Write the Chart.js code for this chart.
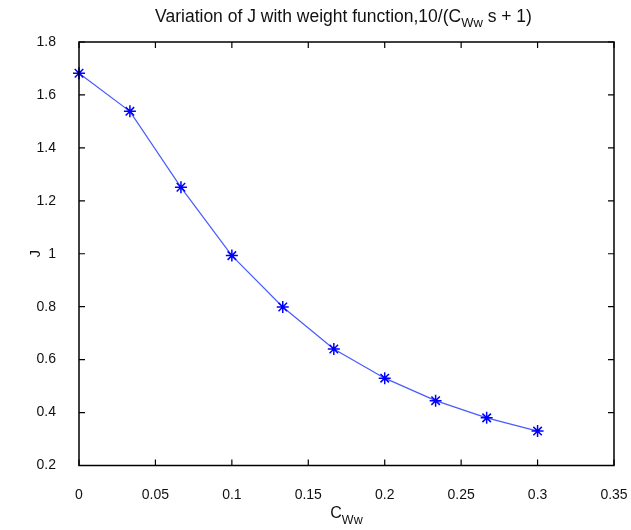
<!DOCTYPE html>
<html>
<head>
<meta charset="utf-8">
<script src="https://cdn.jsdelivr.net/npm/chart.js@4"></script>
<style>
  body { margin: 0; background: #fff; }
  #wrap { width: 631px; height: 530px; }
</style>
</head>
<body>
<div id="wrap"><canvas id="jplot" width="631" height="530"></canvas></div>
<script>
const xValuesCww = [0, 0.0333, 0.0667, 0.1, 0.1333, 0.1667, 0.2, 0.2333, 0.2667, 0.3];
const yValuesJ = [1.682, 1.538, 1.251, 0.993, 0.799, 0.640, 0.530, 0.445, 0.380, 0.330];
const xTicks = [0, 0.05, 0.1, 0.15, 0.2, 0.25, 0.3, 0.35];
const yTicks = [0.2, 0.4, 0.6, 0.8, 1, 1.2, 1.4, 1.6, 1.8];

const titleParts = ["Variation of J with weight function,10/(C", "Ww", " s + 1)"];
const xTitleParts = ["C", "Ww"];
const yTitle = "J";

const FONT = "Liberation Sans, Arial, sans-serif";

// draw text pieces, every odd piece as a subscript, centered on cx
function drawSubText(ctx, parts, cx, y, size, subSize, drop) {
	let total = 0;
	parts.forEach((p, i) => {
		ctx.font = (i % 2 ? subSize : size) + "px " + FONT;
		total += ctx.measureText(p).width;
	});
	let x = cx - total / 2;
	ctx.textAlign = "left";
	ctx.textBaseline = "alphabetic";
	parts.forEach((p, i) => {
		ctx.font = (i % 2 ? subSize : size) + "px " + FONT;
		ctx.fillText(p, x, i % 2 ? y + drop : y);
		x += ctx.measureText(p).width;
	});
}

const matlabBox = {
	id: "matlabBox",
	afterDraw(chart) {
		const ctx = chart.ctx;
		const a = chart.chartArea;
		const sx = chart.scales.x, sy = chart.scales.y;
		ctx.save();
		ctx.strokeStyle = "#000";
		ctx.lineWidth = 1.5;
		ctx.strokeRect(a.left, a.top, a.right - a.left, a.bottom - a.top);
		ctx.lineWidth = 1.2;
		ctx.beginPath();
		xTicks.forEach(v => {
			const px = sx.getPixelForValue(v);
			ctx.moveTo(px, a.bottom); ctx.lineTo(px, a.bottom - 6);
			ctx.moveTo(px, a.top); ctx.lineTo(px, a.top + 6);
		});
		yTicks.forEach(v => {
			const py = sy.getPixelForValue(v);
			ctx.moveTo(a.left, py); ctx.lineTo(a.left + 6, py);
			ctx.moveTo(a.right, py); ctx.lineTo(a.right - 6, py);
		});
		ctx.stroke();

		ctx.fillStyle = "#111";
		const cx = (a.left + a.right) / 2;
		drawSubText(ctx, titleParts, cx - 3, 22, 17.5, 13, 5);
		drawSubText(ctx, xTitleParts, cx, 518, 16, 12.5, 6);

		ctx.translate(36, (a.top + a.bottom) / 2);
		ctx.rotate(-Math.PI / 2);
		ctx.font = "15px " + FONT;
		ctx.textAlign = "center";
		ctx.textBaseline = "middle";
		ctx.fillText(yTitle, 0, 0);
		ctx.restore();
	}
};

new Chart("jplot", {
	type: "line",
	data: {
		datasets: [{
			data: xValuesCww.map((x, i) => ({x: x, y: yValuesJ[i]})),
			borderColor: "rgba(40,60,255,0.85)",
			borderWidth: 1.2,
			pointStyle: "star",
			pointRadius: 6,
			pointBorderColor: "#0000ff",
			pointBorderWidth: 1.5,
			pointBackgroundColor: "#0000ff",
			fill: false,
			clip: false,
			tension: 0
		}]
	},
	options: {
		responsive: false,
		animation: false,
		layout: { padding: { top: 42, right: 17, left: 0, bottom: 0 } },
		plugins: { legend: { display: false }, tooltip: { enabled: false } },
		scales: {
			x: {
				type: "linear",
				min: 0, max: 0.35,
				afterBuildTicks: s => { s.ticks = xTicks.map(v => ({value: v})); },
				afterFit: s => { s.height = 64.5; s.paddingLeft = 0; s.paddingRight = 0; },
				grid: { display: false },
				border: { display: false },
				ticks: { color: "#111", font: { family: FONT, size: 14 }, padding: 13, maxRotation: 0, callback: v => String(v) }
			},
			y: {
				min: 0.2, max: 1.8,
				afterBuildTicks: s => { s.ticks = yTicks.map(v => ({value: v})); },
				afterFit: s => { s.width = 79; s.paddingTop = 0; s.paddingBottom = 0; },
				grid: { display: false },
				border: { display: false },
				ticks: { color: "#111", font: { family: FONT, size: 14 }, padding: 15, callback: v => String(Math.round(v * 10) / 10) }
			}
		}
	},
	plugins: [matlabBox]
});
</script>
</body>
</html>
